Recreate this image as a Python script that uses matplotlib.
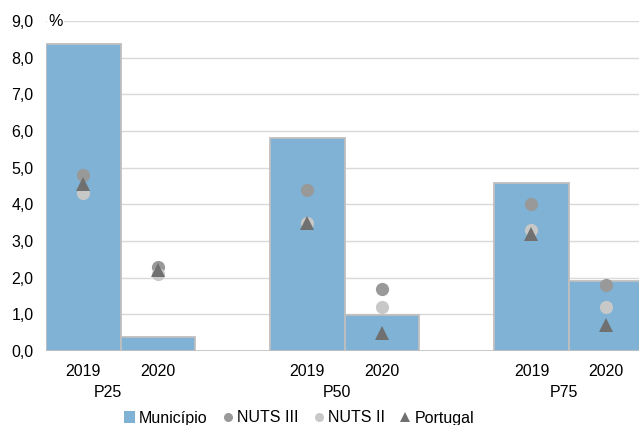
import matplotlib
matplotlib.use("Agg")
import matplotlib.pyplot as plt
from matplotlib.lines import Line2D
from matplotlib.patches import Patch

plt.rcParams['font.family'] = ['Liberation Sans', 'DejaVu Sans']

groups = ["P25", "P50", "P75"]
years = ["2019", "2020"]
municipio = [8.37, 0.38, 5.8, 0.98, 4.58, 1.9]
nuts3 = [4.8, 2.3, 4.4, 1.7, 4.0, 1.8]
nuts2 = [4.3, 2.1, 3.5, 1.2, 3.3, 1.2]
portugal = [4.55, 2.2, 3.5, 0.5, 3.2, 0.7]
yticks = [0, 1, 2, 3, 4, 5, 6, 7, 8, 9]

# slot positions (gap slot between groups)
xpos = [0, 1, 3, 4, 6, 7]
group_offsets = [0.33, 0.4, 0.44]

FS = 11.5

fig = plt.figure(figsize=(6.39, 4.25), dpi=100)
ax = fig.add_axes([46/639, 74/425, 593/639, 330/425])

ax.set_axisbelow(True)
for y in yticks[1:]:
    ax.axhline(y, color="#D9D9D9", lw=1.0, zorder=0)
ax.axhline(0, color="#BFBFBF", lw=1.2, zorder=0)

ax.bar(xpos, municipio, width=1.0, color="#7FB2D4", edgecolor="#BFBFBF",
       linewidth=1.3, zorder=2)
ax.plot(xpos, nuts3, ls="none", marker="o", ms=9.5, color="#999999",
        markeredgewidth=0, zorder=3)
ax.plot(xpos, nuts2, ls="none", marker="o", ms=9.5, color="#C8C8C8",
        markeredgewidth=0, zorder=3)
ax.plot(xpos, portugal, ls="none", marker="^", ms=9.5, color="#707070",
        markeredgewidth=0, zorder=4)

ax.set_xlim(-0.5, 7.44)
ax.set_ylim(0, 9)
ax.set_yticks(yticks)
ax.set_yticklabels([f"{v:.1f}".replace(".", ",") for v in yticks], fontsize=FS)
ax.tick_params(axis="y", length=0, pad=9)
ax.set_xticks(xpos)
ax.set_xticklabels(years * 3, fontsize=FS)
ax.tick_params(axis="x", length=0, pad=9)
for s in ax.spines.values():
    s.set_visible(False)

for i, g in enumerate(groups):
    ax.text(xpos[2 * i] + group_offsets[i], -0.93, g, ha="center", va="top",
            fontsize=FS, transform=ax.transData, clip_on=False)

ax.text(-0.47, 9.0, "%", ha="left", va="center", fontsize=FS,
        bbox=dict(facecolor="white", edgecolor="none", pad=1))

handles = [
    Patch(facecolor="#7FB2D4", edgecolor="none"),
    Line2D([], [], ls="none", marker="o", ms=6.5, color="#999999", markeredgewidth=0),
    Line2D([], [], ls="none", marker="o", ms=6.5, color="#C8C8C8", markeredgewidth=0),
    Line2D([], [], ls="none", marker="^", ms=6.5, color="#707070", markeredgewidth=0),
]
fig.legend(handles, ["Município", "NUTS III", "NUTS II", "Portugal"],
           loc="center", bbox_to_anchor=(299/639, 1 - 418/425), ncol=4,
           frameon=False, fontsize=FS, handlelength=0.7, handletextpad=0.2,
           columnspacing=0.95, borderpad=0)

fig.savefig("out.png", dpi=100)
